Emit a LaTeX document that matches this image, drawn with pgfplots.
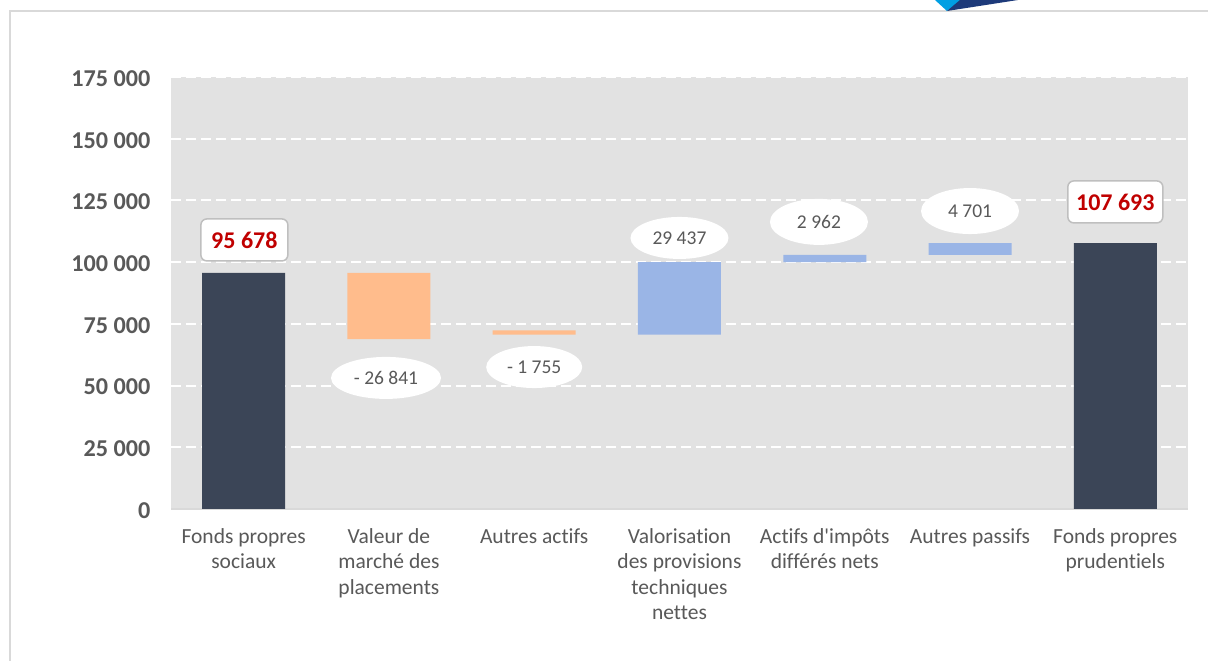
\documentclass[border=0pt]{standalone}
\usepackage{pgfplots}
\pgfplotsset{compat=1.18}
\usepackage{fontspec}
\setmainfont{Carlito}[RawFeature={-liga;-clig;-calt;-dlig}]
\usetikzlibrary{shapes.geometric}
\definecolor{tickgray}{HTML}{595959}
\definecolor{plotbg}{HTML}{E2E2E2}
\definecolor{darkbar}{HTML}{3B4557}
\definecolor{orangebar}{HTML}{FFBC8C}
\definecolor{bluebar}{HTML}{9AB5E6}
\definecolor{redlab}{HTML}{C00000}
\definecolor{framegray}{HTML}{D9D9D9}
\definecolor{boxgray}{HTML}{BFBFBF}
\definecolor{logocyan}{HTML}{009FE3}
\definecolor{logonavy}{HTML}{1D3A7A}
\begin{document}
\begin{tikzpicture}[x=1pt,y=1pt]
\useasboundingbox (0,0) rectangle (1208,661);
\fill[white] (0,0) rectangle (1208,661);
\draw[framegray, line width=1.5pt] (10,0) -- (10,650) -- (1208,650);
\fill[logocyan] (935,661) -- (962,661) -- (947,650) -- cycle;
\fill[logonavy] (947,650) -- (1018,661) -- (960,661) -- cycle;
\begin{axis}[
  at={(171pt,152pt)}, anchor=south west, scale only axis,
  width=1017pt, height=432pt,
  ybar stacked, bar width=83pt,
  xmin=-0.5, xmax=6.5, ymin=0, ymax=175000,
  enlargelimits=false,
  axis background/.style={fill=plotbg},
  axis x line*=bottom, axis y line*=left,
  x axis line style={draw=framegray, line width=1.5pt, -},
  y axis line style={draw=none},
  major tick length=0pt,
  xtick={0,1,2,3,4,5,6},
  xticklabels={Fonds propres\\sociaux, Valeur de\\marché des\\placements, Autres actifs, Valorisation\\des provisions\\techniques\\nettes, Actifs d\textquotesingle impôts\\différés nets, Autres passifs, Fonds propres\\prudentiels},
  xticklabel style={font=\fontsize{21.5}{25.5}\selectfont, text=tickgray, align=center, anchor=north, yshift=-16pt},
  ytick={0,25000,50000,75000,100000,125000,150000,175000},
  yticklabels={0, 25 000, 50 000, 75 000, 100 000, 125 000, 150 000, 175 000},
  scaled y ticks=false,
  yticklabel style={font=\fontsize{24.2}{28}\selectfont\bfseries, text=tickgray, anchor=east, xshift=-17pt, yshift=-1.5pt},
  ymajorgrids,
  grid style={white, line width=2pt, dash pattern=on 10pt off 5pt},
  clip=false,
]
\addplot[fill=none, draw=none] coordinates {(0,0) (1,68837) (2,70592) (3,70592) (4,100029) (5,102991) (6,0)};
\addplot[fill=darkbar, draw=none] coordinates {(0,95678) (1,0) (2,0) (3,0) (4,0) (5,0) (6,107693)};
\addplot[fill=orangebar, draw=none] coordinates {(0,0) (1,26841) (2,1755) (3,0) (4,0) (5,0) (6,0)};
\addplot[fill=bluebar, draw=none] coordinates {(0,0) (1,0) (2,0) (3,29437) (4,2962) (5,4701) (6,0)};

\node[draw=boxgray, line width=1.5pt, fill=white, rounded corners=6pt, minimum width=87pt, minimum height=42pt, inner sep=0pt,
  text=redlab, font=\fontsize{24}{28}\selectfont\bfseries] at (axis cs:0.005,109000) {95 678};
\node[draw=boxgray, line width=1.5pt, fill=white, rounded corners=6pt, minimum width=95pt, minimum height=42pt, inner sep=0pt,
  text=redlab, font=\fontsize{24}{28}\selectfont\bfseries] at (axis cs:6,124400) {107 693};
\tikzset{elab/.style={ellipse, fill=white, draw=none, inner sep=0pt, minimum height=42pt, text=tickgray, font=\fontsize{19.5}{23}\selectfont}}
\node[elab, minimum width=110pt] at (axis cs:0.98,53100) {- 26 841};
\node[elab, minimum width=96pt] at (axis cs:2.0,57500) {- 1 755};
\node[elab, minimum width=98pt] at (axis cs:3.0,109800) {29 437};
\node[elab, minimum width=98pt, minimum height=46pt] at (axis cs:3.96,116300) {2 962};
\node[elab, minimum width=98pt, minimum height=46pt] at (axis cs:5.0,120700) {4 701};
\end{axis}
\end{tikzpicture}
\end{document}
